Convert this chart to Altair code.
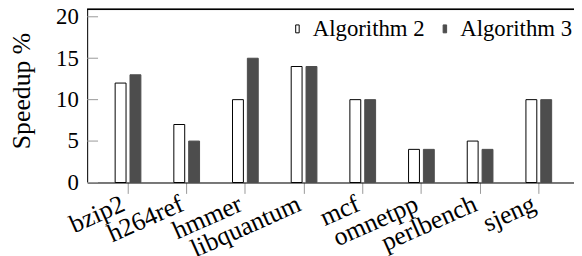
import altair as alt
import pandas as pd

benchmarks = ["bzip2", "h264ref", "hmmer", "libquantum", "mcf", "omnetpp", "perlbench", "sjeng"]
algo2 = [12, 7, 10, 14, 10, 4, 5, 10]
algo3 = [13, 5, 15, 14, 10, 4, 4, 10]
series = ["Algorithm 2", "Algorithm 3"]
y_ticks = [0, 5, 10, 15, 20]

rows = []
for b, v2, v3 in zip(benchmarks, algo2, algo3):
    rows.append({"bench": b, "alg": series[0], "val": v2})
    rows.append({"bench": b, "alg": series[1], "val": v3})
df = pd.DataFrame(rows)
ticks_df = pd.DataFrame({"t": y_ticks})

FONT = "Liberation Serif"
W, H = 492, 175
XR = 497.7
ydom = [0, 20.9]

yscale = alt.Scale(domain=ydom, nice=False, zero=True)

bars = alt.Chart(df).mark_bar(strokeWidth=1).encode(
    x=alt.X("bench:N", sort=benchmarks,
            scale=alt.Scale(range=[0, XR], paddingInner=0.5616, paddingOuter=0.477),
            axis=alt.Axis(title=None, labelAngle=-24, labelAlign="right", labelBaseline="top",
                          labelFont=FONT, labelFontSize=26, labelColor="black",
                          tickSize=11, tickColor="#999999", tickWidth=1,
                          domainColor="black", domainWidth=1, labelPadding=-3, labelOffset=-10)),
    xOffset=alt.XOffset("alg:N", sort=series, scale=alt.Scale(paddingInner=0.267, paddingOuter=0)),
    y=alt.Y("val:Q", scale=yscale,
            axis=alt.Axis(title="Speedup %", values=y_ticks, ticks=False, grid=False,
                          labelFont=FONT, labelFontSize=23, labelColor="black", labelPadding=9,
                          domainColor="black", domainWidth=1,
                          titleFont=FONT, titleFontSize=26, titleFontWeight="normal", titleColor="black",
                          titleAngle=270, titleAlign="center", titleBaseline="middle",
                          titleX=-66, titleY=82)),
    fill=alt.Fill("alg:N", scale=alt.Scale(domain=series, range=["white", "#4d4d4d"]),
                  legend=alt.Legend(title=None, orient="none", legendX=201, legendY=8,
                                    direction="horizontal", columns=2,
                                    symbolType="M-0.22,-0.5H0.22V0.5H-0.22Z", symbolSize=256,
                                    symbolStrokeWidth=1, labelFont=FONT, labelFontSize=23,
                                    labelColor="black", labelOffset=4, columnPadding=8, padding=0)),
    stroke=alt.Stroke("alg:N", scale=alt.Scale(domain=series, range=["black", "#4d4d4d"]), legend=None),
)

tick_marks = alt.Chart(ticks_df).mark_rule(color="#999999", strokeWidth=1).encode(
    y=alt.Y("t:Q", scale=yscale),
    x=alt.value(0),
    x2=alt.value(11),
)

top_line = alt.Chart(ticks_df).mark_rule(color="black", strokeWidth=1).encode(
    x=alt.value(0), x2=alt.value(XR), y=alt.value(0)
)

chart = alt.layer(bars, tick_marks, top_line).properties(
    width=W, height=H,
    autosize=alt.AutoSizeParams(type="none"),
    padding={"left": 80, "top": 0, "right": 0, "bottom": 80},
).configure_view(stroke=None).configure(background="white", font=FONT)

chart.save("out.html", embed_options={"renderer": "svg", "actions": False})
